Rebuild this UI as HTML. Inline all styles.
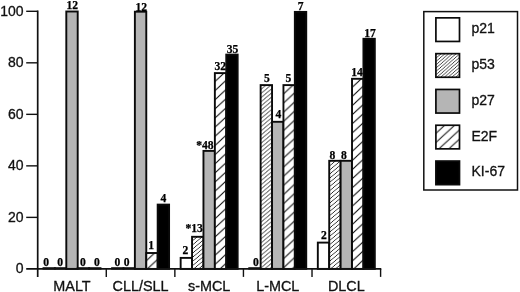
<!DOCTYPE html>
<html><head><meta charset="utf-8"><title>chart</title>
<style>
html,body{margin:0;padding:0;background:#fff;}
body{width:520px;height:292px;overflow:hidden;}
svg{display:block;}
.s{font-family:"Liberation Sans",sans-serif;font-size:14px;fill:#111;stroke:#111;stroke-width:0.3px;}
.x{font-size:14.4px;}
.b{font-family:"Liberation Serif",serif;font-weight:bold;font-size:11.6px;fill:#000;stroke:#000;stroke-width:0.25px;}
</style></head><body>
<svg width="520" height="292" viewBox="0 0 520 292">
<defs>
<pattern id="e1" width="9.95" height="9.15" patternUnits="userSpaceOnUse" patternTransform="translate(147.3,259.8)"><rect width="9.95" height="9.15" fill="#fff"/><path d="M-9.95,18.3 L19.9,-9.15 M-9.95,9.15 L9.95,-9.15 M0,18.3 L19.9,0" stroke="#111" stroke-width="1.15"/></pattern>
<pattern id="p2" width="4.95" height="4.15" patternUnits="userSpaceOnUse" patternTransform="translate(193,244.5)"><rect width="4.95" height="4.15" fill="#fff"/><path d="M-4.95,8.3 L9.9,-4.15 M-4.95,4.15 L4.95,-4.15 M0,8.3 L9.9,0" stroke="#000" stroke-width="0.82"/></pattern>
<pattern id="e2" width="9.95" height="9.15" patternUnits="userSpaceOnUse" patternTransform="translate(216,80.5)"><rect width="9.95" height="9.15" fill="#fff"/><path d="M-9.95,18.3 L19.9,-9.15 M-9.95,9.15 L9.95,-9.15 M0,18.3 L19.9,0" stroke="#111" stroke-width="1.15"/></pattern>
<pattern id="p3" width="4.95" height="4.15" patternUnits="userSpaceOnUse" patternTransform="translate(261.5,93.1)"><rect width="4.95" height="4.15" fill="#fff"/><path d="M-4.95,8.3 L9.9,-4.15 M-4.95,4.15 L4.95,-4.15 M0,8.3 L9.9,0" stroke="#000" stroke-width="0.82"/></pattern>
<pattern id="e3" width="9.95" height="9.15" patternUnits="userSpaceOnUse" patternTransform="translate(284.5,93)"><rect width="9.95" height="9.15" fill="#fff"/><path d="M-9.95,18.3 L19.9,-9.15 M-9.95,9.15 L9.95,-9.15 M0,18.3 L19.9,0" stroke="#111" stroke-width="1.15"/></pattern>
<pattern id="p4" width="4.95" height="4.15" patternUnits="userSpaceOnUse" patternTransform="translate(330,165.5)"><rect width="4.95" height="4.15" fill="#fff"/><path d="M-4.95,8.3 L9.9,-4.15 M-4.95,4.15 L4.95,-4.15 M0,8.3 L9.9,0" stroke="#000" stroke-width="0.82"/></pattern>
<pattern id="e4" width="9.95" height="9.15" patternUnits="userSpaceOnUse" patternTransform="translate(353,86.5)"><rect width="9.95" height="9.15" fill="#fff"/><path d="M-9.95,18.3 L19.9,-9.15 M-9.95,9.15 L9.95,-9.15 M0,18.3 L19.9,0" stroke="#111" stroke-width="1.15"/></pattern>
<pattern id="pl" width="3.75" height="3.3" patternUnits="userSpaceOnUse" patternTransform="translate(440,54.7)"><rect width="3.75" height="3.3" fill="#fff"/><path d="M-3.75,6.6 L7.5,-3.3 M-3.75,3.3 L3.75,-3.3 M0,6.6 L7.5,0" stroke="#000" stroke-width="0.75"/></pattern>
<pattern id="el" width="9.95" height="9.15" patternUnits="userSpaceOnUse" patternTransform="translate(436.8,132.5)"><rect width="9.95" height="9.15" fill="#fff"/><path d="M-9.95,18.3 L19.9,-9.15 M-9.95,9.15 L9.95,-9.15 M0,18.3 L19.9,0" stroke="#111" stroke-width="1.05"/></pattern>
</defs>
<rect width="520" height="292" fill="#fff"/>

<rect x="42.55" y="267.20" width="13.30" height="2.4" fill="#111"/>
<rect x="53.95" y="267.20" width="13.30" height="2.4" fill="#111"/>
<rect x="66.30" y="11.50" width="11.4" height="257.40" fill="#b5b5b5" stroke="#0a0a0a" stroke-width="1.9"/>
<rect x="76.75" y="267.20" width="13.30" height="2.4" fill="#111"/>
<rect x="88.15" y="267.20" width="13.30" height="2.4" fill="#111"/>
<rect x="111.13" y="267.20" width="13.30" height="2.4" fill="#111"/>
<rect x="122.53" y="267.20" width="13.30" height="2.4" fill="#111"/>
<rect x="134.88" y="11.70" width="11.4" height="257.20" fill="#b5b5b5" stroke="#0a0a0a" stroke-width="1.9"/>
<rect x="146.28" y="253.00" width="11.4" height="15.90" fill="url(#e1)" stroke="#0a0a0a" stroke-width="1.9"/>
<rect x="157.68" y="204.60" width="11.4" height="64.30" fill="#000" stroke="#0a0a0a" stroke-width="1.9"/>
<rect x="180.66" y="257.90" width="11.4" height="11.00" fill="#fff" stroke="#0a0a0a" stroke-width="1.9"/>
<rect x="192.06" y="236.80" width="11.4" height="32.10" fill="url(#p2)" stroke="#0a0a0a" stroke-width="1.9"/>
<rect x="203.46" y="150.90" width="11.4" height="118.00" fill="#b5b5b5" stroke="#0a0a0a" stroke-width="1.9"/>
<rect x="214.86" y="73.10" width="11.4" height="195.80" fill="url(#e2)" stroke="#0a0a0a" stroke-width="1.9"/>
<rect x="226.26" y="54.60" width="11.4" height="214.30" fill="#000" stroke="#0a0a0a" stroke-width="1.9"/>
<rect x="248.29" y="267.20" width="13.30" height="2.4" fill="#111"/>
<rect x="260.64" y="85.10" width="11.4" height="183.80" fill="url(#p3)" stroke="#0a0a0a" stroke-width="1.9"/>
<rect x="272.04" y="121.80" width="11.4" height="147.10" fill="#b5b5b5" stroke="#0a0a0a" stroke-width="1.9"/>
<rect x="283.44" y="85.10" width="11.4" height="183.80" fill="url(#e3)" stroke="#0a0a0a" stroke-width="1.9"/>
<rect x="294.84" y="11.90" width="11.4" height="257.00" fill="#000" stroke="#0a0a0a" stroke-width="1.9"/>
<rect x="317.82" y="242.60" width="11.4" height="26.30" fill="#fff" stroke="#0a0a0a" stroke-width="1.9"/>
<rect x="329.22" y="160.80" width="11.4" height="108.10" fill="url(#p4)" stroke="#0a0a0a" stroke-width="1.9"/>
<rect x="340.62" y="160.80" width="11.4" height="108.10" fill="#b5b5b5" stroke="#0a0a0a" stroke-width="1.9"/>
<rect x="352.02" y="78.80" width="11.4" height="190.10" fill="url(#e4)" stroke="#0a0a0a" stroke-width="1.9"/>
<rect x="363.42" y="38.80" width="11.4" height="230.10" fill="#000" stroke="#0a0a0a" stroke-width="1.9"/>
<path d="M37.7,10.60 V276.90 M26.20,268.9 H381.30" stroke="#111" stroke-width="1.7" fill="none"/>
<path d="M106.28,268.9 v8" stroke="#111" stroke-width="1.4"/>
<path d="M174.86,268.9 v8" stroke="#111" stroke-width="1.4"/>
<path d="M243.44,268.9 v8" stroke="#111" stroke-width="1.4"/>
<path d="M312.02,268.9 v8" stroke="#111" stroke-width="1.4"/>
<path d="M380.60,268.9 v8" stroke="#111" stroke-width="1.4"/>
<path d="M26.20,217.38 H37.7" stroke="#111" stroke-width="1.4"/>
<path d="M26.20,165.86 H37.7" stroke="#111" stroke-width="1.4"/>
<path d="M26.20,114.34 H37.7" stroke="#111" stroke-width="1.4"/>
<path d="M26.20,62.82 H37.7" stroke="#111" stroke-width="1.4"/>
<path d="M26.20,11.30 H37.7" stroke="#111" stroke-width="1.4"/>
<text class="s" x="23.6" y="273.20" text-anchor="end">0</text>
<text class="s" x="23.6" y="221.68" text-anchor="end">20</text>
<text class="s" x="23.6" y="170.16" text-anchor="end">40</text>
<text class="s" x="23.6" y="118.64" text-anchor="end">60</text>
<text class="s" x="23.6" y="67.12" text-anchor="end">80</text>
<text class="s" x="23.6" y="15.60" text-anchor="end">100</text>
<text class="s x" x="71.99" y="290.5" text-anchor="middle">MALT</text>
<text class="s x" x="140.57" y="290.5" text-anchor="middle">CLL/SLL</text>
<text class="s x" x="209.15" y="290.5" text-anchor="middle">s-MCL</text>
<text class="s x" x="277.73" y="290.5" text-anchor="middle">L-MCL</text>
<text class="s x" x="346.31" y="290.5" text-anchor="middle">DLCL</text>
<rect x="423.8" y="11.6" width="93.7" height="178.4" fill="#fff" stroke="#111" stroke-width="1.5"/>
<rect x="435.9" y="17.85" width="23.6" height="23.6" fill="#fff" stroke="#0a0a0a" stroke-width="1.7"/>
<text class="s" x="471.5" y="33.25">p21</text>
<rect x="435.9" y="53.65" width="23.6" height="23.6" fill="url(#pl)" stroke="#0a0a0a" stroke-width="1.7"/>
<text class="s" x="471.5" y="69.05">p53</text>
<rect x="435.9" y="89.45" width="23.6" height="23.6" fill="#b5b5b5" stroke="#0a0a0a" stroke-width="1.7"/>
<text class="s" x="471.5" y="104.85">p27</text>
<rect x="435.9" y="125.25" width="23.6" height="23.6" fill="url(#el)" stroke="#0a0a0a" stroke-width="1.7"/>
<text class="s" x="471.5" y="140.65">E2F</text>
<rect x="435.9" y="161.05" width="23.6" height="23.6" fill="#000" stroke="#0a0a0a" stroke-width="1.7"/>
<text class="s" x="471.5" y="176.45">KI-67</text>
<text class="b" x="46.1" y="266.1" text-anchor="middle">0</text>
<text class="b" x="60.1" y="266.1" text-anchor="middle">0</text>
<text class="b" x="72.2" y="8.9" text-anchor="middle">12</text>
<text class="b" x="83" y="266.1" text-anchor="middle">0</text>
<text class="b" x="97" y="266.1" text-anchor="middle">0</text>
<text class="b" x="117.5" y="265.8" text-anchor="middle">0</text>
<text class="b" x="126.6" y="265.8" text-anchor="middle">0</text>
<text class="b" x="141.3" y="10.6" text-anchor="middle">12</text>
<text class="b" x="151.2" y="248.8" text-anchor="middle">1</text>
<text class="b" x="163.5" y="202.0" text-anchor="middle">4</text>
<text class="b" x="185.3" y="254.2" text-anchor="middle">2</text>
<text class="b" x="194.2" y="231.6" text-anchor="middle">*13</text>
<text class="b" x="204.9" y="148.6" text-anchor="middle">*48</text>
<text class="b" x="220.2" y="70.0" text-anchor="middle">32</text>
<text class="b" x="232.5" y="53.1" text-anchor="middle">35</text>
<text class="b" x="255.9" y="265.8" text-anchor="middle">0</text>
<text class="b" x="266.8" y="82.3" text-anchor="middle">5</text>
<text class="b" x="278.4" y="118.4" text-anchor="middle">4</text>
<text class="b" x="288.5" y="82.3" text-anchor="middle">5</text>
<text class="b" x="300.75" y="9.8" text-anchor="middle">7</text>
<text class="b" x="323.8" y="239.1" text-anchor="middle">2</text>
<text class="b" x="332.4" y="158.7" text-anchor="middle">8</text>
<text class="b" x="344" y="158.7" text-anchor="middle">8</text>
<text class="b" x="357" y="76.1" text-anchor="middle">14</text>
<text class="b" x="370" y="36.6" text-anchor="middle">17</text>
</svg></body></html>
